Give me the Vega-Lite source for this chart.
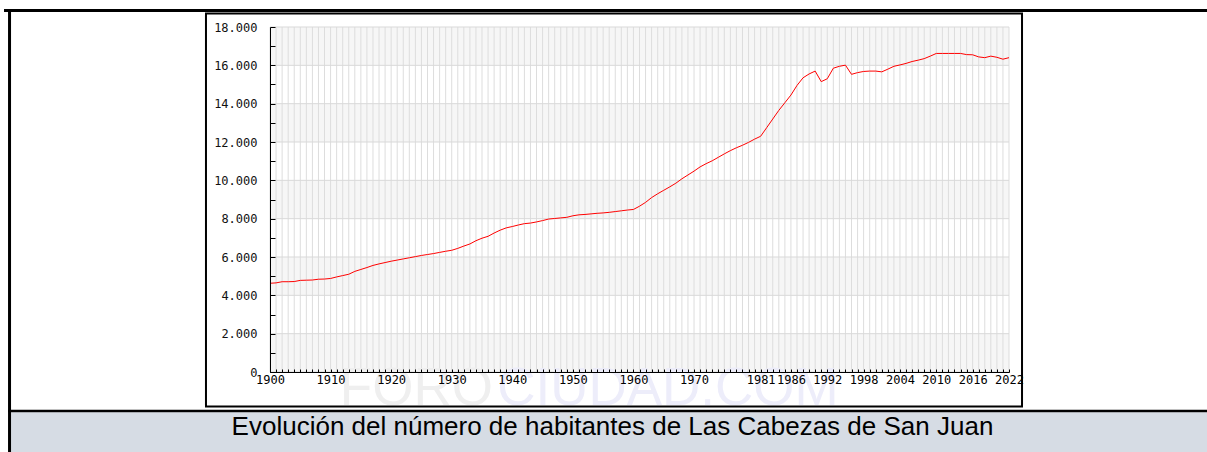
{
  "$schema": "https://vega.github.io/schema/vega-lite/v6.json",
  "width": 739,
  "height": 345,
  "autosize": {"type": "none"},
  "padding": {"left": 270, "top": 27, "right": 198, "bottom": 80},
  "background": "white",
  "config": {
    "view": {"stroke": null},
    "axis": {"labelOverlap": false, "labelFlush": false, "labelBound": false, "grid": false, "zindex": 1, "tickColor": "#000000", "domainColor": "#000000", "labelFont": "DejaVu Sans Mono", "labelFontSize": 12},
    "axisX": {"tickSize": -3, "labelPadding": 5, "labelColor": "#000000", "tickCount": 500},
    "axisY": {"tickSize": -5, "labelPadding": 18, "labelColor": "#111111", "tickCount": 100}
  },
  "datasets": {
    "pop": [
      {"year":1900,"pop":4630},{"year":1901,"pop":4650},{"year":1902,"pop":4710},{"year":1903,"pop":4710},{"year":1904,"pop":4720},
      {"year":1905,"pop":4780},{"year":1906,"pop":4790},{"year":1907,"pop":4800},{"year":1908,"pop":4840},{"year":1909,"pop":4850},
      {"year":1910,"pop":4880},{"year":1911,"pop":4960},{"year":1912,"pop":5030},{"year":1913,"pop":5100},{"year":1914,"pop":5250},
      {"year":1915,"pop":5350},{"year":1916,"pop":5450},{"year":1917,"pop":5560},{"year":1918,"pop":5640},{"year":1919,"pop":5710},
      {"year":1920,"pop":5780},{"year":1921,"pop":5840},{"year":1922,"pop":5900},{"year":1923,"pop":5960},{"year":1924,"pop":6020},
      {"year":1925,"pop":6080},{"year":1926,"pop":6130},{"year":1927,"pop":6180},{"year":1928,"pop":6240},{"year":1929,"pop":6300},
      {"year":1930,"pop":6350},{"year":1931,"pop":6450},{"year":1932,"pop":6570},{"year":1933,"pop":6680},{"year":1934,"pop":6850},
      {"year":1935,"pop":6980},{"year":1936,"pop":7080},{"year":1937,"pop":7250},{"year":1938,"pop":7400},{"year":1939,"pop":7520},
      {"year":1940,"pop":7590},{"year":1941,"pop":7670},{"year":1942,"pop":7740},{"year":1943,"pop":7770},{"year":1944,"pop":7830},
      {"year":1945,"pop":7900},{"year":1946,"pop":7980},{"year":1947,"pop":8010},{"year":1948,"pop":8040},{"year":1949,"pop":8070},
      {"year":1950,"pop":8150},{"year":1951,"pop":8200},{"year":1952,"pop":8220},{"year":1953,"pop":8250},{"year":1954,"pop":8280},
      {"year":1955,"pop":8300},{"year":1956,"pop":8330},{"year":1957,"pop":8370},{"year":1958,"pop":8410},{"year":1959,"pop":8450},
      {"year":1960,"pop":8480},{"year":1961,"pop":8650},{"year":1962,"pop":8850},{"year":1963,"pop":9100},{"year":1964,"pop":9300},
      {"year":1965,"pop":9480},{"year":1966,"pop":9660},{"year":1967,"pop":9850},{"year":1968,"pop":10080},{"year":1969,"pop":10280},
      {"year":1970,"pop":10480},{"year":1971,"pop":10700},{"year":1972,"pop":10870},{"year":1973,"pop":11020},{"year":1974,"pop":11200},
      {"year":1975,"pop":11380},{"year":1976,"pop":11550},{"year":1977,"pop":11700},{"year":1978,"pop":11830},{"year":1979,"pop":11980},
      {"year":1980,"pop":12150},{"year":1981,"pop":12300},{"year":1982,"pop":12750},{"year":1983,"pop":13200},{"year":1984,"pop":13650},
      {"year":1985,"pop":14050},{"year":1986,"pop":14450},{"year":1987,"pop":14950},{"year":1988,"pop":15350},{"year":1989,"pop":15550},
      {"year":1990,"pop":15700},{"year":1991,"pop":15150},{"year":1992,"pop":15300},{"year":1993,"pop":15850},{"year":1994,"pop":15950},
      {"year":1995,"pop":16010},{"year":1996,"pop":15530},{"year":1997,"pop":15620},{"year":1998,"pop":15680},{"year":1999,"pop":15700},
      {"year":2000,"pop":15700},{"year":2001,"pop":15660},{"year":2002,"pop":15800},{"year":2003,"pop":15950},{"year":2004,"pop":16020},
      {"year":2005,"pop":16100},{"year":2006,"pop":16200},{"year":2007,"pop":16270},{"year":2008,"pop":16350},{"year":2009,"pop":16480},
      {"year":2010,"pop":16620},{"year":2011,"pop":16620},{"year":2012,"pop":16620},{"year":2013,"pop":16620},{"year":2014,"pop":16620},
      {"year":2015,"pop":16560},{"year":2016,"pop":16550},{"year":2017,"pop":16440},{"year":2018,"pop":16400},{"year":2019,"pop":16480},
      {"year":2020,"pop":16420},{"year":2021,"pop":16320},{"year":2022,"pop":16400}
    ],
    "bands": [
      {"lo":0,"hi":2000},{"lo":4000,"hi":6000},{"lo":8000,"hi":10000},{"lo":12000,"hi":14000},{"lo":16000,"hi":18000}
    ],
    "hgrid": [
      {"v":0},{"v":2000},{"v":4000},{"v":6000},{"v":8000},{"v":10000},{"v":12000},{"v":14000},{"v":16000},{"v":18000}
    ]
  },
  "layer": [
    {
      "data": {"name": "bands"},
      "mark": {"type": "rect", "color": "#f6f6f6"},
      "encoding": {
        "x": {
          "datum": 1900, "type": "quantitative",
          "scale": {"domain": [1900, 2022], "nice": false, "zero": false},
          "axis": {
            "title": null,
            "zindex": 1,
            "tickCount": 500,
            "values": [1900,1901,1902,1903,1904,1905,1906,1907,1908,1909,1910,1911,1912,1913,1914,1915,1916,1917,1918,1919,1920,1921,1922,1923,1924,1925,1926,1927,1928,1929,1930,1931,1932,1933,1934,1935,1936,1937,1938,1939,1940,1941,1942,1943,1944,1945,1946,1947,1948,1949,1950,1951,1952,1953,1954,1955,1956,1957,1958,1959,1960,1961,1962,1963,1964,1965,1966,1967,1968,1969,1970,1971,1972,1973,1974,1975,1976,1977,1978,1979,1980,1981,1982,1983,1984,1985,1986,1987,1988,1989,1990,1991,1992,1993,1994,1995,1996,1997,1998,1999,2000,2001,2002,2003,2004,2005,2006,2007,2008,2009,2010,2011,2012,2013,2014,2015,2016,2017,2018,2019,2020,2021,2022],
            "labelExpr": "indexof([1900,1910,1920,1930,1940,1950,1960,1970,1981,1986,1992,1998,2004,2010,2016,2022], datum.value) >= 0 ? '' + datum.value : ''",
            "labelOverlap": false
          }
        },
        "x2": {"datum": 2022},
        "y": {
          "field": "lo", "type": "quantitative",
          "scale": {"domain": [0, 18000], "nice": false, "zero": false},
          "axis": {
            "title": null,
            "zindex": 1,
            "tickCount": 100,
            "values": [0,1000,2000,3000,4000,5000,6000,7000,8000,9000,10000,11000,12000,13000,14000,15000,16000,17000,18000],
            "labelExpr": "datum.value % 2000 === 0 ? replace(format(datum.value, ','), ',', '.') : ''",
            "labelOverlap": false
          }
        },
        "y2": {"field": "hi"}
      }
    },
    {
      "data": {"name": "pop"},
      "mark": {"type": "rule", "color": "#dddddd", "strokeWidth": 1},
      "encoding": {
        "x": {"field": "year", "type": "quantitative", "axis": {"title": null, "zindex": 1, "labelOverlap": false}},
        "y": {"datum": 0, "type": "quantitative", "axis": {"title": null, "zindex": 1, "labelOverlap": false}},
        "y2": {"datum": 18000}
      }
    },
    {
      "data": {"name": "hgrid"},
      "mark": {"type": "rule", "color": "#d9d9d9", "strokeWidth": 1},
      "encoding": {
        "x": {"datum": 1900, "type": "quantitative", "axis": {"title": null, "zindex": 1, "labelOverlap": false}},
        "x2": {"datum": 2022},
        "y": {"field": "v", "type": "quantitative", "axis": {"title": null, "zindex": 1, "labelOverlap": false}}
      }
    },
    {
      "data": {"name": "pop"},
      "mark": {"type": "line", "color": "#ff0000", "strokeWidth": 1},
      "encoding": {
        "x": {"field": "year", "type": "quantitative", "axis": {"title": null, "zindex": 1, "labelOverlap": false}},
        "y": {"field": "pop", "type": "quantitative", "axis": {"title": null, "zindex": 1, "labelOverlap": false}}
      }
    },
    {
      "data": {"values": [{}]},
      "mark": {"type": "text", "font": "Liberation Sans", "fontSize": 53, "align": "right", "baseline": "alphabetic", "color": "#efefef", "text": "FORO"},
      "encoding": {
        "x": {"datum": 1936.8, "type": "quantitative", "axis": {"title": null, "zindex": 1, "labelOverlap": false}},
        "y": {"datum": -1722, "type": "quantitative", "axis": {"title": null, "zindex": 1, "labelOverlap": false}}
      }
    },
    {
      "data": {"values": [{}]},
      "mark": {"type": "text", "font": "Liberation Sans", "fontSize": 53, "align": "left", "baseline": "alphabetic", "color": "#ededfa", "text": "CIUDAD.COM"},
      "encoding": {
        "x": {"datum": 1937.5, "type": "quantitative", "axis": {"title": null, "zindex": 1, "labelOverlap": false}},
        "y": {"datum": -1722, "type": "quantitative", "axis": {"title": null, "zindex": 1, "labelOverlap": false}}
      }
    },
    {
      "data": {"values": [{}]},
      "mark": {"type": "rect", "fill": null, "stroke": "#000000", "strokeWidth": 2},
      "encoding": {
        "x": {"datum": 1889.43, "type": "quantitative", "axis": {"title": null, "zindex": 1, "labelOverlap": false}},
        "x2": {"datum": 2024.15},
        "y": {"datum": -1800, "type": "quantitative", "axis": {"title": null, "zindex": 1, "labelOverlap": false}},
        "y2": {"datum": 18704}
      }
    },
    {
      "data": {"values": [{}]},
      "mark": {"type": "rect", "color": "#d6dce4"},
      "encoding": {
        "x": {"datum": 1857.24, "type": "quantitative", "axis": {"title": null, "zindex": 1, "labelOverlap": false}},
        "x2": {"datum": 2054.69},
        "y": {"datum": -4174, "type": "quantitative", "axis": {"title": null, "zindex": 1, "labelOverlap": false}},
        "y2": {"datum": -2103}
      }
    },
    {
      "data": {"values": [{}]},
      "mark": {"type": "rule", "color": "#000000", "strokeWidth": 3},
      "encoding": {
        "x": {"datum": 1856.09, "type": "quantitative", "axis": {"title": null, "zindex": 1, "labelOverlap": false}},
        "x2": {"datum": 2054.69},
        "y": {"datum": 18861, "type": "quantitative", "axis": {"title": null, "zindex": 1, "labelOverlap": false}}
      }
    },
    {
      "data": {"values": [{}]},
      "mark": {"type": "rule", "color": "#000000", "strokeWidth": 3},
      "encoding": {
        "x": {"datum": 1857.0, "type": "quantitative", "axis": {"title": null, "zindex": 1, "labelOverlap": false}},
        "y": {"datum": -4174, "type": "quantitative", "axis": {"title": null, "zindex": 1, "labelOverlap": false}},
        "y2": {"datum": 18939}
      }
    },
    {
      "data": {"values": [{}]},
      "mark": {"type": "rule", "color": "#000000", "strokeWidth": 2.5},
      "encoding": {
        "x": {"datum": 1856.75, "type": "quantitative", "axis": {"title": null, "zindex": 1, "labelOverlap": false}},
        "x2": {"datum": 2054.69},
        "y": {"datum": -2035, "type": "quantitative", "axis": {"title": null, "zindex": 1, "labelOverlap": false}}
      }
    },
    {
      "data": {"values": [{}]},
      "mark": {"type": "text", "font": "Liberation Sans", "fontSize": 26, "align": "center", "baseline": "alphabetic", "color": "#000000", "text": "Evolución del número de habitantes de Las Cabezas de San Juan"},
      "encoding": {
        "x": {"datum": 1956.54, "type": "quantitative", "axis": {"title": null, "zindex": 1, "labelOverlap": false}},
        "y": {"datum": -3287, "type": "quantitative", "axis": {"title": null, "zindex": 1, "labelOverlap": false}}
      }
    }
  ]
}
